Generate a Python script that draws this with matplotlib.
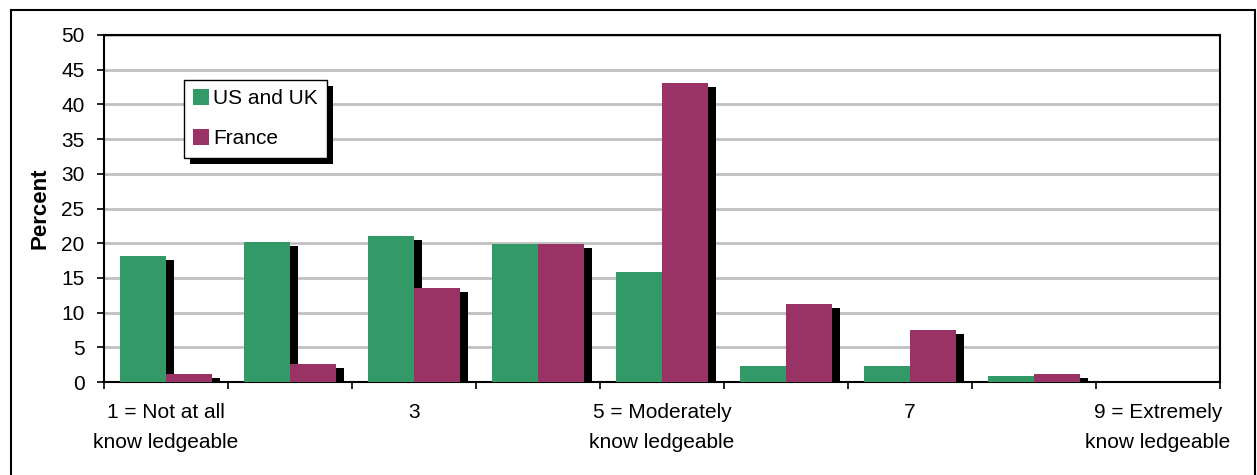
import numpy as np
import matplotlib
matplotlib.use('Agg')
import matplotlib.pyplot as plt
import matplotlib.patheffects as pe
from matplotlib.patches import Rectangle

# Datos (porcentaje por nivel de conocimiento)
niveles = [1, 2, 3, 4, 5, 6, 7, 8, 9]
etiquetas = ['1 = Not at all\nknow ledgeable', '', '3', '',
             '5 = Moderately\nknow ledgeable', '', '7', '',
             '9 = Extremely\nknow ledgeable']
us_uk = [18.1, 20.2, 21.0, 19.9, 15.9, 2.3, 2.3, 0.9, 0.0]
francia = [1.2, 2.6, 13.5, 19.9, 43.1, 11.2, 7.5, 1.2, 0.0]
series = ['US and UK', 'France']

DPI = 100
W, H = 1257, 475
FS = 15
plt.rcParams['font.family'] = ['Liberation Sans', 'DejaVu Sans']

fig = plt.figure(figsize=(W / DPI, H / DPI), dpi=DPI)
ax = fig.add_axes([104 / W, 1 - 382 / H, (1220 - 104) / W, (382 - 35) / H])

# Sombra negra de cada barra (8 px a la derecha, 4 px abajo)
px = 72 / DPI
sombra = [pe.SimplePatchShadow(offset=(8 * px, -4 * px), shadow_rgbFace='black', alpha=1.0),
          pe.Normal()]

x = np.array(niveles, dtype=float)
w = 0.371
b1 = ax.bar(x - w / 2, us_uk, w, color='#339966', label=series[0], zorder=3)
b2 = ax.bar(x + w / 2, francia, w, color='#993366', label=series[1], zorder=3)
for bar in list(b1) + list(b2):
    bar.set_path_effects(sombra)

ax.set_xlim(0.5, 9.5)
ax.set_ylim(0, 50)
ax.set_yticks(np.arange(0, 51, 5))
ax.yaxis.grid(True, color='#c0c0c0', linewidth=2, zorder=0)
ax.set_axisbelow(True)

# Marcas entre categorías, etiquetas centradas
ax.set_xticks(np.arange(0.5, 10, 1))
ax.set_xticklabels([])
ax.set_xticks(x, minor=True)
ax.set_xticklabels(etiquetas, minor=True, fontsize=FS, linespacing=1.75)
ax.tick_params(axis='x', which='major', direction='out', length=5, width=1.2)
ax.tick_params(axis='x', which='minor', length=0, pad=15)
ax.tick_params(axis='y', direction='out', length=5, width=1.2, labelsize=FS, pad=9)

for s in ax.spines.values():
    s.set_color('black')
    s.set_linewidth(1.5)

ax.set_ylabel('Percent', fontsize=FS + 1, fontweight='bold', labelpad=8)

leg = ax.legend(loc='upper left', bbox_to_anchor=((184 - 104) / 1116, (382 - 80) / 347),
                borderaxespad=0, fontsize=FS, fancybox=False, framealpha=1,
                edgecolor='black', handlelength=0.75, handleheight=0.75,
                handletextpad=0.2, labelspacing=1.0, borderpad=0.45)
leg.get_frame().set_linewidth(1.0)
leg.get_frame().set_path_effects([
    pe.SimplePatchShadow(offset=(6 * px, -6 * px), shadow_rgbFace='black', alpha=1.0),
    pe.Normal()])
for h in leg.legend_handles:
    h.set_path_effects([])

# Marco exterior
fig.patches.append(Rectangle((11 / W, -0.02), (1255 - 11) / W, (H - 10) / H + 0.02,
                             transform=fig.transFigure, fill=False,
                             edgecolor='black', linewidth=1.5))

fig.savefig('out.png', dpi=DPI)
